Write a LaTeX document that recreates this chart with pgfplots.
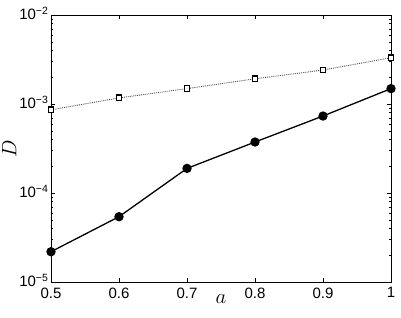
\documentclass[border=0pt]{standalone}
\usepackage{fontspec}
\setmainfont{Liberation Sans}
\usepackage{pgfplots}
\pgfplotsset{compat=1.18}
\begin{document}
\begin{tikzpicture}
\useasboundingbox (-51pt,-35pt) rectangle (350pt,282pt);
\begin{axis}[
  at={(0pt,0pt)}, anchor=south west,
  scale only axis, width=340pt, height=267pt,
  ymode=log, xmin=0.5, xmax=1, ymin=1e-5, ymax=1e-2,
  xtick={0.5,0.6,0.7,0.8,0.9,1},
  xticklabels={0.5,0.6,0.7,0.8,0.9,1},
  ytick={1e-5,1e-4,1e-3,1e-2},
  yticklabels={10\textsuperscript{−5},10\textsuperscript{−4},10\textsuperscript{−3},10\textsuperscript{−2}},
  tick align=inside,
  major tick length=4pt, minor tick length=2pt,
  tick style={black, line width=0.5pt},
  axis line style={line width=0.8pt},
  every tick label/.append style={font=\fontsize{15}{17}\selectfont},
  xticklabel style={yshift=-2pt},
  yticklabel style={xshift=1pt, yshift=1.5pt},
  xlabel={$a$}, ylabel={$D$},
  label style={font=\fontsize{20}{22}\selectfont},
  xlabel style={yshift=10pt},
  ylabel style={yshift=-4pt},
]
\addplot[black!70, densely dotted, line width=0.9pt, mark=square*, mark options={solid, fill=white, draw=black, line width=1.3pt}, mark size=2.8pt]
coordinates {(0.5,8.6e-4) (0.6,1.17e-3) (0.7,1.49e-3) (0.8,1.92e-3) (0.9,2.41e-3) (1.0,3.31e-3)};
\addplot[black, solid, line width=1.3pt, mark=*, mark options={fill=black}, mark size=4pt]
coordinates {(0.5,2.19e-5) (0.6,5.42e-5) (0.7,1.89e-4) (0.8,3.74e-4) (0.9,7.33e-4) (1.0,1.49e-3)};
\end{axis}
\end{tikzpicture}
\end{document}
